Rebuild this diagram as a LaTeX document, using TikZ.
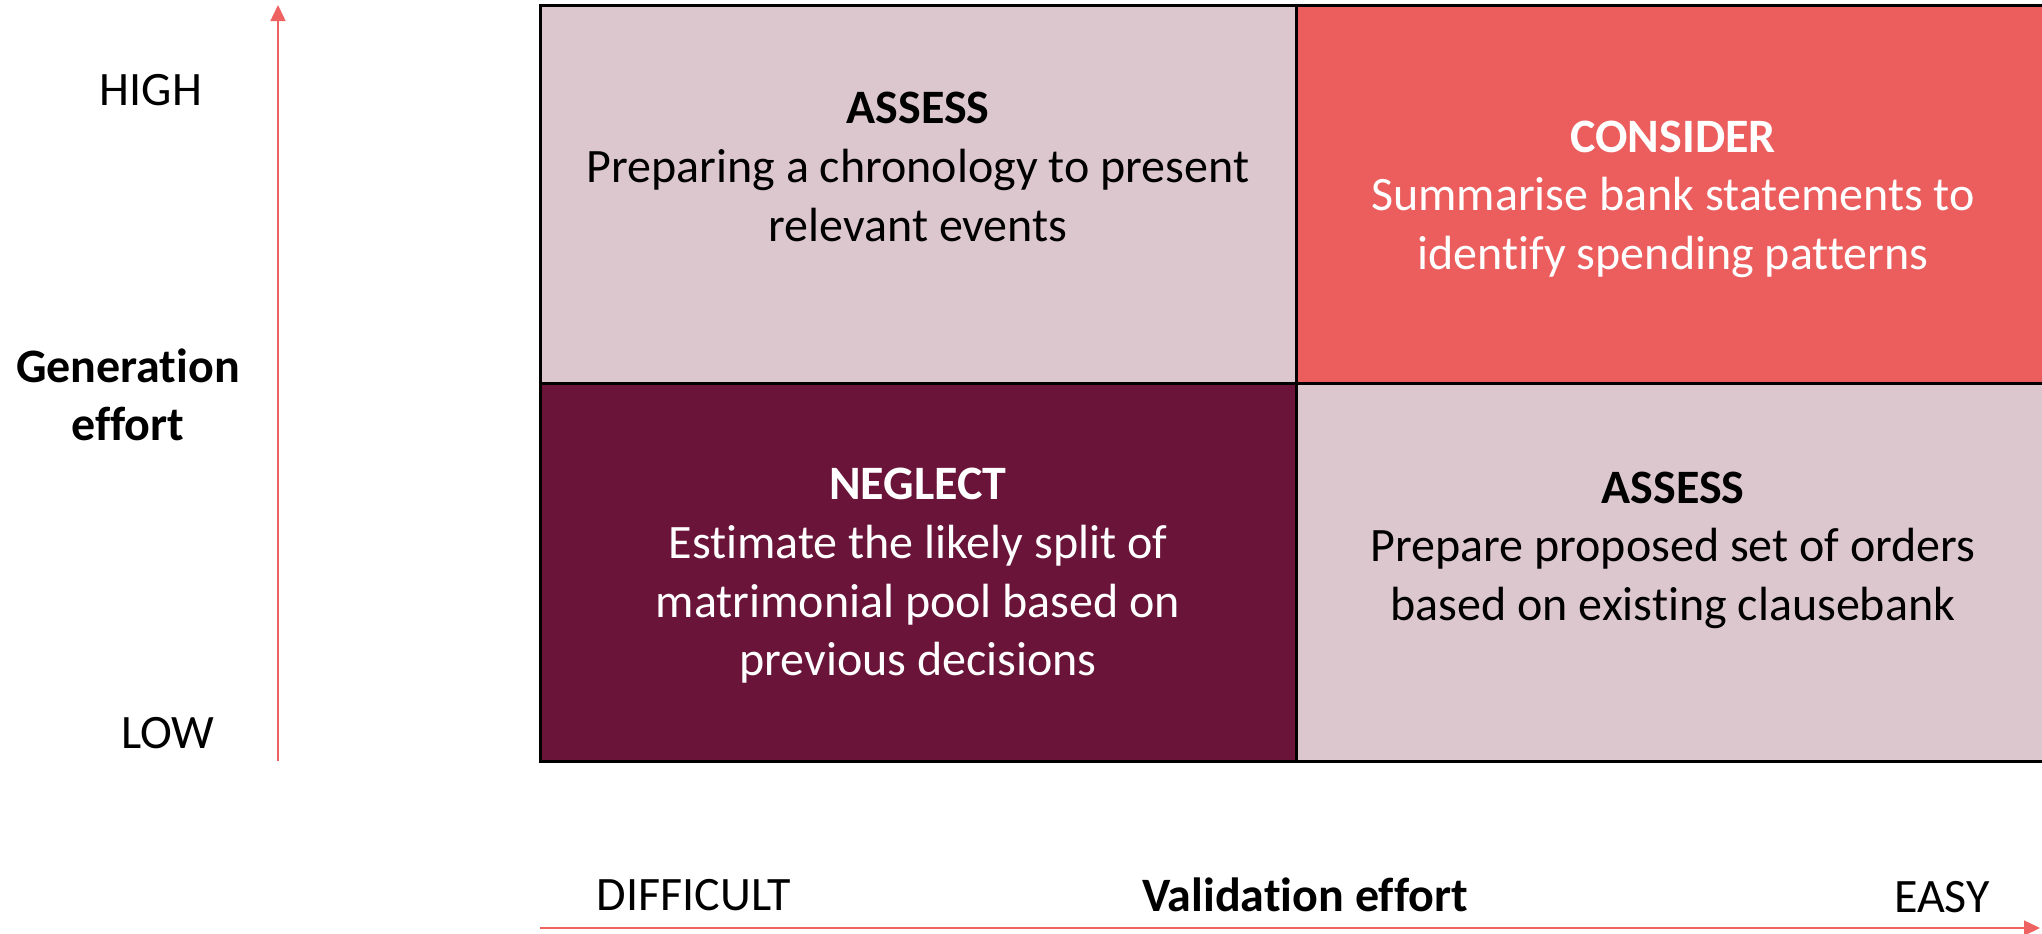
\documentclass[tikz,border=0pt]{standalone}
\usepackage{fontspec}
\setmainfont{Carlito}[Ligatures=NoCommon]
\usetikzlibrary{arrows.meta}
\definecolor{lightcell}{HTML}{DCC7CF}
\definecolor{redcell}{HTML}{EC5E5E}
\definecolor{darkcell}{HTML}{6A1439}
\definecolor{axisred}{HTML}{EE6262}
\begin{document}
\begin{tikzpicture}[x=0.5pt,y=-0.5pt,
  txt/.style={font=\fontsize{24}{29.3}\selectfont, align=center, inner sep=0pt},
  axis/.style={draw=axisred, line width=0.75pt, -{Triangle[length=8pt,width=7.5pt]}},
  grid/.style={draw=black, line width=1.5pt}]
\useasboundingbox (0,0) rectangle (2042,933);
% cells
\fill[lightcell] (540,5) rectangle (1296,383);
\fill[redcell] (1296,5) rectangle (2042,383);
\fill[darkcell] (540,383) rectangle (1296,761);
\fill[lightcell] (1296,383) rectangle (2042,761);
\draw[grid] (2042,5) -- (540,5) -- (540,761) -- (2042,761);
\draw[grid] (1296,5) -- (1296,761);
\draw[grid] (540,383) -- (2042,383);
% cell texts
\node[txt] (tl) at (918,167) {\textbf{ASSESS}\\Preparing a chronology to present\\relevant events};
\node[txt, text=white] (tr) at (1673,199) {\textbf{CONSIDER}\\Summarise bank statements to\\identify spending patterns};
\node[txt, text=white] (bl) at (918,576) {\textbf{NEGLECT}\\Estimate the likely split of\\matrimonial pool based on\\previous decisions};
\node[txt] (br) at (1673,550) {\textbf{ASSESS}\\Prepare proposed set of orders\\based on existing clausebank};
% axes
\coordinate (vs) at (278,761);
\coordinate (ve) at (278,5);
\coordinate (hs) at (540,928);
\coordinate (he) at (2040,928);
\draw[axis] (vs) -- (ve);
\draw[axis] (hs) -- (he);
% axis labels
\node[txt] (high) at (151,90) {HIGH};
\node[txt] (low) at (168,733) {LOW};
\node[txt] (gen) at (128,395) {\textbf{Generation}\\\textbf{effort}};
\node[txt] (diff) at (694,895) {DIFFICULT};
\node[txt] (val) at (1305,895) {\textbf{Validation effort}};
\node[txt] (easy) at (1942,897) {EASY};
\end{tikzpicture}
\end{document}
